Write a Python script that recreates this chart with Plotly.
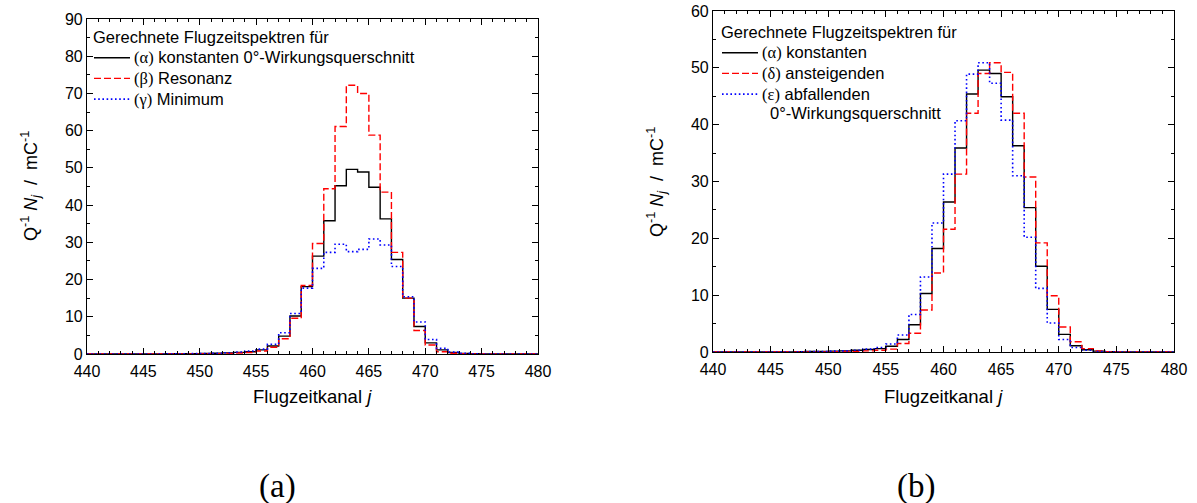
import plotly.graph_objects as go

W, H = 1197, 503

# Channels (left bin edges) 440..479
channels = list(range(440, 480))

# Panel (a)
alpha_a = [0, 0, 0, 0, 0, 0, 0, 0.05, 0.08, 0.1,
           0.15, 0.2, 0.3, 0.45, 0.6, 1.1, 2.15, 4.8, 10.2, 18.1,
           26.3, 35.8, 45.2, 49.6, 48.9, 44.8, 36.3, 25.4, 15.0, 7.4,
           3.0, 1.1, 0.4, 0.15, 0.05, 0, 0, 0, 0, 0]
beta_a = [0, 0, 0, 0, 0, 0, 0, 0, 0, 0.03,
          0.05, 0.1, 0.15, 0.25, 0.4, 0.8, 1.8, 4.1, 9.6, 18.4,
          29.7, 44.4, 61.1, 72.2, 70.0, 58.8, 43.5, 27.3, 15.0, 6.3,
          2.4, 0.6, 0.2, 0.05, 0, 0, 0, 0, 0, 0]
gamma_a = [0, 0, 0, 0, 0, 0, 0, 0.05, 0.08, 0.1,
           0.15, 0.2, 0.35, 0.55, 0.8, 1.3, 2.6, 5.7, 10.9, 17.7,
           23.0, 27.3, 29.5, 27.5, 28.1, 30.9, 29.3, 23.5, 15.4, 8.6,
           3.9, 1.5, 0.5, 0.2, 0.05, 0, 0, 0, 0, 0]

# Panel (b)
alpha_b = [0, 0, 0, 0, 0, 0, 0, 0.05, 0.08, 0.1,
           0.15, 0.2, 0.3, 0.45, 0.6, 1.0, 2.2, 4.8, 10.3, 18.2,
           26.4, 35.9, 45.4, 49.6, 49.0, 44.9, 36.3, 25.4, 15.1, 7.5,
           3.1, 1.1, 0.4, 0.15, 0.05, 0, 0, 0, 0, 0]
delta_b = [0, 0, 0, 0, 0, 0, 0, 0, 0, 0.03,
           0.05, 0.08, 0.1, 0.2, 0.3, 0.5, 1.5, 3.3, 7.4, 13.9,
           21.6, 31.3, 42.0, 49.0, 50.9, 49.2, 42.0, 30.8, 19.2, 9.9,
           4.4, 1.8, 0.6, 0.2, 0.05, 0, 0, 0, 0, 0]
eps_b = [0, 0, 0, 0, 0, 0, 0, 0.05, 0.08, 0.1,
         0.15, 0.2, 0.3, 0.5, 0.8, 1.4, 3.0, 6.6, 13.2, 22.7,
         31.3, 40.7, 48.9, 50.9, 47.3, 40.8, 31.0, 20.2, 11.2, 5.1,
         2.2, 0.8, 0.3, 0.1, 0, 0, 0, 0, 0, 0]

x_ticks = [440, 445, 450, 455, 460, 465, 470, 475, 480]

legend_title = "Gerechnete Flugzeitspektren für"
names_a = ["konstanten 0°-Wirkungsquerschnitt", "Resonanz", "Minimum"]
greek_a = ["α", "β", "γ"]
names_b = ["konstanten", "ansteigenden", "abfallenden"]
greek_b = ["α", "δ", "ε"]
extra_b = "0°-Wirkungsquerschnitt"

SANS = "Liberation Sans, Arial, sans-serif"
SERIF = "Liberation Serif, Times New Roman, serif"

STYLES = [("black", "solid", 1.4), ("#ff0000", "7px,3px", 1.4), ("#0000ff", "1.6px,2.6px", 1.6)]
LEG_SIZE = 16.5


def label(letter, name):
    return f'<span style="font-family:{SERIF}">({letter})</span> {name}'


def steps(vals):
    xs = channels + [channels[-1] + 1]
    ys = vals + [vals[-1]]
    return xs, ys


fig = go.Figure()

for vals, (col, dash, wd) in zip([alpha_a, beta_a, gamma_a], STYLES):
    xs, ys = steps(vals)
    fig.add_trace(go.Scatter(x=xs, y=ys, mode="lines", line_shape="hv",
                             line=dict(color=col, dash=dash, width=wd),
                             xaxis="x", yaxis="y", showlegend=False, hoverinfo="skip"))

for vals, (col, dash, wd) in zip([alpha_b, delta_b, eps_b], STYLES):
    xs, ys = steps(vals)
    fig.add_trace(go.Scatter(x=xs, y=ys, mode="lines", line_shape="hv",
                             line=dict(color=col, dash=dash, width=wd),
                             xaxis="x2", yaxis="y2", showlegend=False, hoverinfo="skip"))


def xax(domain, anchor):
    return dict(domain=domain, anchor=anchor, range=[440, 480], tickvals=x_ticks,
                ticks="inside", ticklen=6, tickwidth=1, tickcolor="black",
                minor=dict(dtick=1, tick0=440, ticks="inside", ticklen=3, tickcolor="black"),
                showline=True, linecolor="black", linewidth=1.2, mirror="allticks",
                showgrid=False, zeroline=False, ticklabelstandoff=3, automargin=False,
                tickfont=dict(family=SANS, size=16, color="black"))


def yax(domain, anchor, top):
    return dict(domain=domain, anchor=anchor, range=[0, top], dtick=10, tick0=0,
                ticks="inside", ticklen=6, tickwidth=1, tickcolor="black",
                minor=dict(dtick=5, tick0=0, ticks="inside", ticklen=3, tickcolor="black"),
                showline=True, linecolor="black", linewidth=1.2, mirror="allticks",
                showgrid=False, zeroline=False, automargin=False,
                tickfont=dict(family=SANS, size=16, color="black"))


fig.update_layout(
    width=W, height=H, margin=dict(l=0, r=0, t=0, b=0, pad=0, autoexpand=False),
    paper_bgcolor="white", plot_bgcolor="white", showlegend=False,
    xaxis=xax([87 / W, 538 / W], "y"),
    yaxis=yax([(H - 354) / H, (H - 19) / H], "x", 90),
    xaxis2=xax([713 / W, 1174 / W], "y2"),
    yaxis2=yax([(H - 352) / H, (H - 11) / H], "x2", 60),
)


def px(x):
    return x / W


def py(y):
    return 1 - y / H


def add_text(text, x, y, size=LEG_SIZE, xanchor="left", family=SANS, angle=0):
    fig.add_annotation(text=text, xref="paper", yref="paper", x=px(x), y=py(y),
                       showarrow=False, xanchor=xanchor, yanchor="middle", textangle=angle,
                       font=dict(family=family, size=size, color="black"))


def legend(x0, ytitle, greek, names, gap=20.7, line_len=36, text_dx=38):
    add_text(legend_title, x0 - 3, ytitle)
    for i, ((col, dash, wd), g, n) in enumerate(zip(STYLES, greek, names)):
        yy = ytitle + gap * (i + 1)
        fig.add_shape(type="line", xref="paper", yref="paper",
                      x0=px(x0), x1=px(x0 + line_len), y0=py(yy), y1=py(yy),
                      line=dict(color=col, dash=dash, width=wd))
        add_text(label(g, n), x0 + text_dx, yy)


legend(94, 37, greek_a, names_a)
legend(722, 32, greek_b, names_b)
add_text(extra_b, 768, 113)

ytitle = "Q<sup>-1</sup> <i>N<sub>j</sub></i>  /  mC<sup>-1</sup>"
xtitle = "Flugzeitkanal <i>j</i>"
add_text(ytitle, 30, 186, size=18, xanchor="center", angle=-90)
add_text(ytitle, 657, 182, size=18, xanchor="center", angle=-90)
add_text(xtitle, 312, 396, size=18.5, xanchor="center")
add_text(xtitle, 943, 396, size=18.5, xanchor="center")
add_text("(a)", 277, 486, size=33, xanchor="center", family=SERIF)
add_text("(b)", 916, 486, size=33, xanchor="center", family=SERIF)

fig.write_html("out.html")
